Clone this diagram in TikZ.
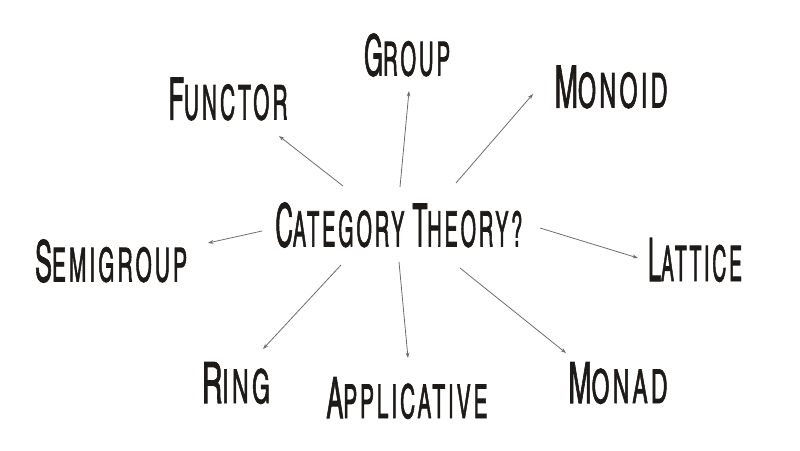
\documentclass[tikz,border=0pt]{standalone}
\usepackage{fontspec}
\newfontfamily\hand{texgyreheroscn}[Extension=.otf, UprightFont=*-regular, FakeBold=1.8, LetterSpace=12]
\usetikzlibrary{arrows.meta}
\definecolor{ink}{HTML}{1E1A18}
\definecolor{arrowgray}{HTML}{6E6E6E}
\newcommand\hsc[2]{{\fontsize{50}{50}\selectfont #1}{\fontsize{41}{41}\selectfont #2}}
\newcommand\wsp{{\fontsize{40}{40}\selectfont\ }}
\newcommand\lbl[3]{\resizebox{#1pt}{#2pt}{\hand #3}}
\begin{document}
\begin{tikzpicture}[x=1pt,y=-1pt,
  word/.style={inner sep=0pt, text=ink},
  arr/.style={draw=arrowgray, line width=0.8pt, -{Stealth[length=5.5pt,width=3.8pt]}}]
\useasboundingbox[fill=white] (0,0) rectangle (800,450);

\node[word] (ct) at (399,225) {\lbl{247}{44}{\hsc{C}{ATEGORY}\wsp\hsc{T}{HEORY?}}};
\node[word] (group) at (407,55) {\lbl{86}{42}{\hsc{G}{ROUP}}};
\node[word] (functor) at (228,99) {\lbl{119}{42}{\hsc{F}{UNCTOR}}};
\node[word] (monoid) at (611,87) {\lbl{113}{42}{\hsc{M}{ONOID}}};
\node[word] (semigroup) at (111,261) {\lbl{152}{42}{\hsc{S}{EMIGROUP}}};
\node[word] (lattice) at (695,260) {\lbl{94}{43}{\hsc{L}{ATTICE}}};
\node[word] (ring) at (236,383) {\lbl{68}{41}{\hsc{R}{ING}}};
\node[word] (applicative) at (407,398) {\lbl{161}{41}{\hsc{A}{PPLICATIVE}}};
\node[word] (monad) at (618,383) {\lbl{99}{41}{\hsc{M}{ONAD}}};

% arrow end points
\coordinate (sF) at (343,186); \coordinate (eF) at (279,136);
\coordinate (sG) at (400,187); \coordinate (eG) at (409,91);
\coordinate (sM) at (456,183); \coordinate (eM) at (533,94);
\coordinate (sS) at (262,231); \coordinate (eS) at (208,243);
\coordinate (sL) at (540,228); \coordinate (eL) at (638,258);
\coordinate (sR) at (341,265); \coordinate (eR) at (263,349);
\coordinate (sA) at (399,262); \coordinate (eA) at (408,358);
\coordinate (sN) at (460,268); \coordinate (eN) at (566,353);

\draw[arr] (sF) -- (eF);
\draw[arr] (sG) -- (eG);
\draw[arr] (sM) -- (eM);
\draw[arr] (sS) -- (eS);
\draw[arr] (sL) -- (eL);
\draw[arr] (sR) -- (eR);
\draw[arr] (sA) -- (eA);
\draw[arr] (sN) -- (eN);
\end{tikzpicture}
\end{document}
